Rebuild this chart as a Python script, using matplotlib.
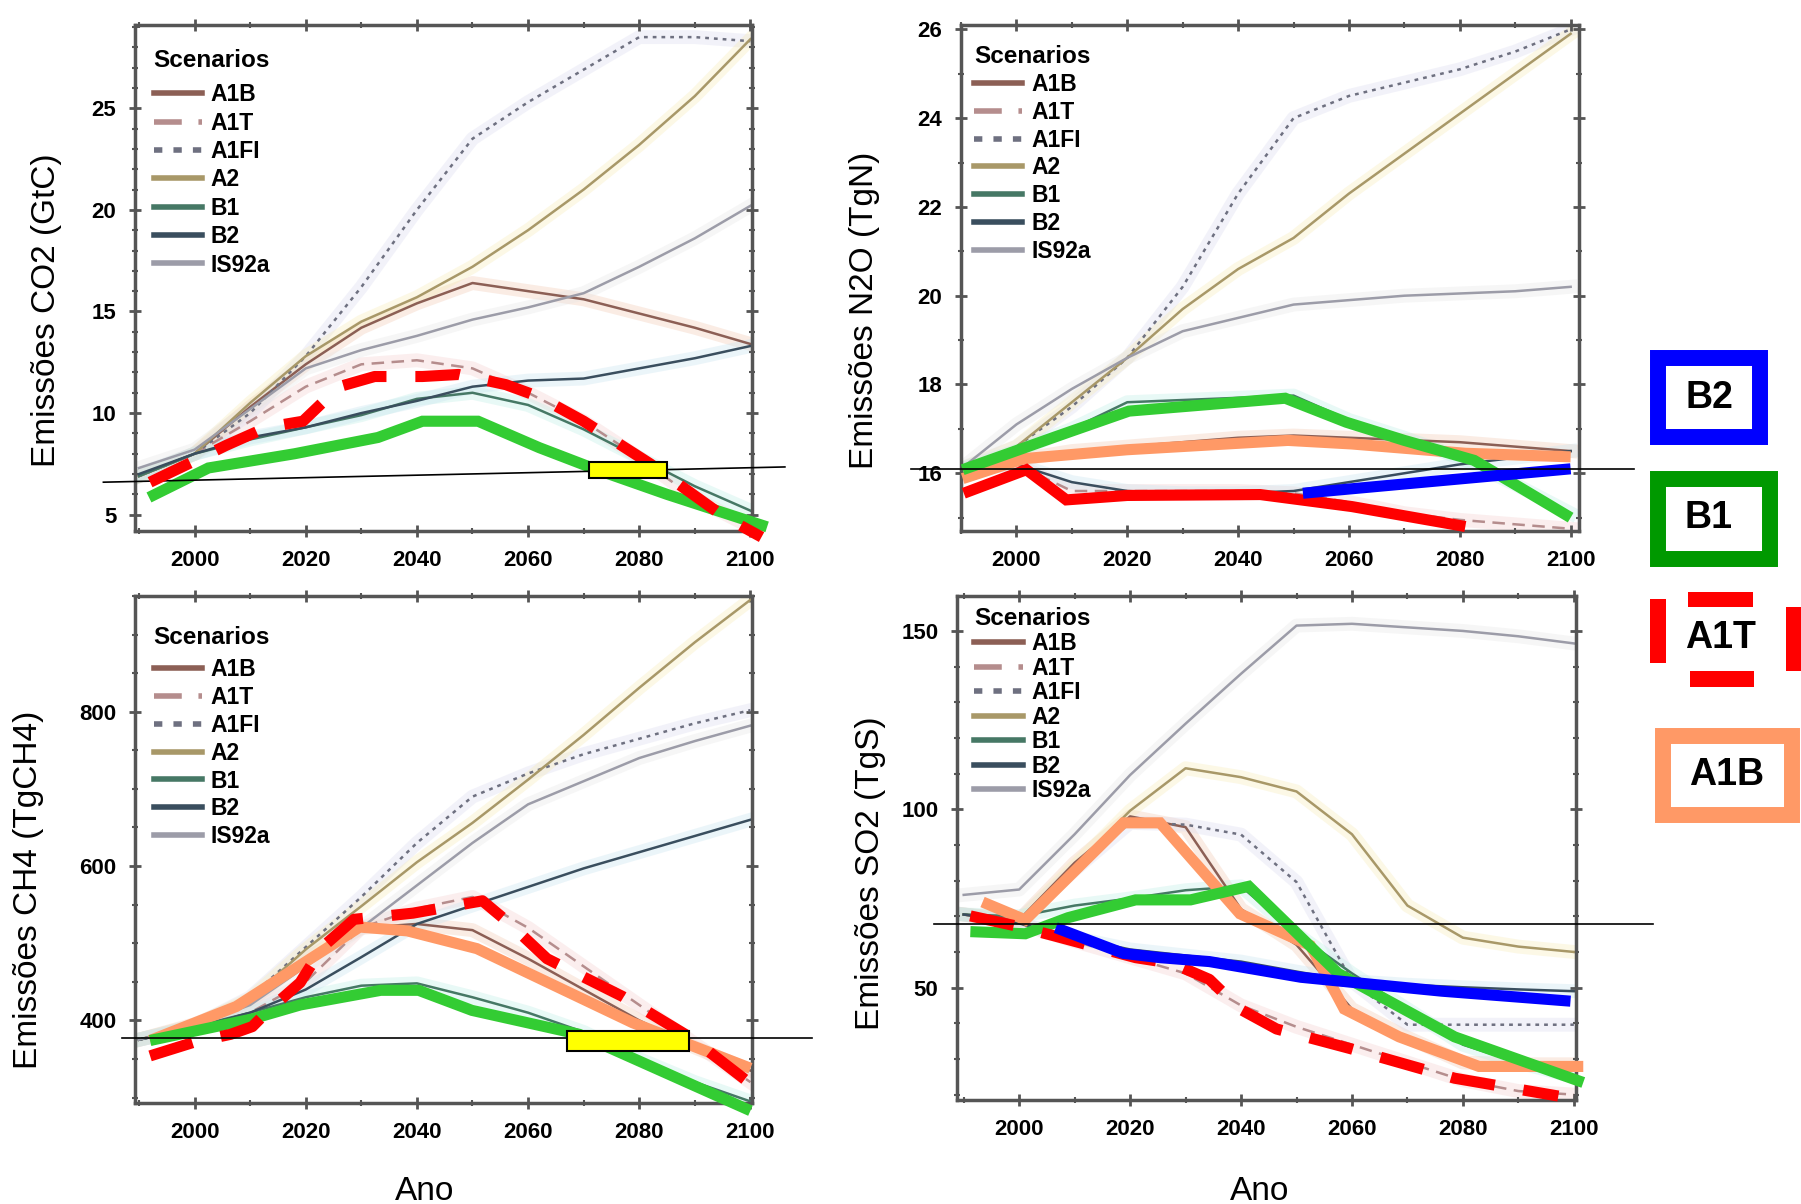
import matplotlib.pyplot as plt
from matplotlib.patches import Rectangle
from matplotlib.ticker import MultipleLocator

plt.rcParams['font.family'] = ['Liberation Sans', 'DejaVu Sans']

years = [1990, 2000, 2010, 2020, 2030, 2040, 2050, 2060, 2070, 2080, 2090, 2100]
scenarios = ["A1B", "A1T", "A1FI", "A2", "B1", "B2", "IS92a"]

# CO2 (GtC)
co2_a1b = [6.9, 8.0, 10.3, 12.4, 14.2, 15.4, 16.4, 16.0, 15.6, 14.9, 14.2, 13.4]
co2_a1t = [6.9, 8.0, 9.6, 11.3, 12.4, 12.6, 12.2, 11.0, 9.6, 7.8, 5.8, 4.4]
co2_a1fi = [6.9, 8.0, 10.0, 12.8, 16.2, 20.0, 23.5, 25.3, 26.9, 28.5, 28.5, 28.3]
co2_a2 = [6.9, 8.0, 10.5, 12.8, 14.5, 15.7, 17.2, 19.0, 21.0, 23.2, 25.6, 28.4]
co2_b1 = [6.9, 8.0, 8.7, 9.3, 9.9, 10.7, 11.0, 10.4, 9.2, 7.8, 6.4, 5.2]
co2_b2 = [7.0, 8.0, 8.8, 9.3, 10.0, 10.6, 11.3, 11.6, 11.7, 12.2, 12.7, 13.3]
co2_is92a = [7.3, 8.2, 10.2, 12.2, 13.1, 13.8, 14.6, 15.2, 15.9, 17.2, 18.6, 20.2]

# N2O (TgN)
n2o_a1b = [16.1, 16.3, 16.5, 16.6, 16.7, 16.8, 16.85, 16.8, 16.75, 16.7, 16.6, 16.5]
n2o_a1t = [16.1, 16.2, 15.6, 15.6, 15.6, 15.6, 15.55, 15.35, 15.1, 14.95, 14.85, 14.75]
n2o_a1fi = [16.1, 16.6, 17.5, 18.6, 20.2, 22.3, 24.0, 24.5, 24.8, 25.1, 25.5, 26.0]
n2o_a2 = [16.1, 16.6, 17.6, 18.6, 19.7, 20.6, 21.3, 22.3, 23.2, 24.1, 25.0, 25.9]
n2o_b1 = [16.1, 16.5, 17.0, 17.6, 17.65, 17.7, 17.75, 17.2, 16.8, 16.35, 15.75, 15.1]
n2o_b2 = [16.1, 16.2, 15.8, 15.6, 15.55, 15.55, 15.6, 15.8, 16.0, 16.2, 16.35, 16.5]
n2o_is92a = [16.1, 17.1, 17.9, 18.6, 19.2, 19.5, 19.8, 19.9, 20.0, 20.05, 20.1, 20.2]

# CH4 (TgCH4)
ch4_a1b = [375, 395, 425, 480, 520, 525, 517, 480, 440, 400, 365, 335]
ch4_a1t = [375, 390, 410, 450, 520, 545, 560, 520, 470, 420, 370, 320]
ch4_a1fi = [375, 393, 430, 495, 560, 630, 690, 720, 745, 765, 785, 802]
ch4_a2 = [375, 393, 428, 492, 548, 605, 656, 712, 770, 831, 890, 945]
ch4_b1 = [375, 392, 410, 430, 445, 448, 430, 410, 385, 350, 320, 295]
ch4_b2 = [375, 390, 410, 440, 482, 525, 549, 573, 597, 618, 639, 660]
ch4_is92a = [375, 393, 420, 470, 520, 575, 630, 680, 710, 740, 762, 782]

# SO2 (TgS)
so2_a1b = [70.5, 69, 85, 98, 95, 72, 62, 44, 36, 29, 28.5, 28.5]
so2_a1t = [70.5, 68, 63, 58.5, 54, 45, 39, 34, 29, 24, 21, 20]
so2_a1fi = [70.5, 69, 83, 96.2, 95.7, 92.9, 79.6, 51.8, 39.6, 39.6, 39.6, 39.6]
so2_a2 = [70.5, 68.5, 84, 99.6, 111.5, 109, 105, 93, 73, 64, 61.5, 60]
so2_b1 = [70.5, 70, 73, 75, 77.3, 78.4, 65.1, 54, 44, 34, 29, 25]
so2_b2 = [70.5, 68, 64, 60.7, 59, 57.3, 54.5, 51.8, 50.8, 50.1, 49.5, 49]
so2_is92a = [76, 77.5, 93, 109.6, 124, 138, 151.5, 152, 151, 150, 148.5, 146.5]

# highlighted scenarios drawn over the scan
co2_b1_hl_years = [1991.8, 2002.5, 2018, 2033, 2041, 2051, 2062, 2072.5, 2085, 2103]
co2_b1_hl = [5.85, 7.3, 8.0, 8.8, 9.6, 9.6, 8.3, 7.2, 6.0, 4.4]
co2_a1t_hl_years = [1992, 2000, 2005.6, 2013, 2019.5, 2026, 2032.4, 2041, 2047.5, 2056, 2062, 2070, 2082, 2095, 2102]
co2_a1t_hl = [6.6, 7.65, 8.4, 9.3, 9.6, 11.3, 11.8, 11.8, 11.9, 11.4, 10.8, 9.6, 7.5, 4.95, 3.9]

n2o_a1t_hl_years = [1990.5, 2001.8, 2009, 2020, 2044, 2060.5, 2081]
n2o_a1t_hl = [15.55, 16.08, 15.4, 15.5, 15.52, 15.25, 14.8]
n2o_a1b_hl_years = [1990.3, 2001.4, 2020, 2049, 2060.5, 2081, 2100]
n2o_a1b_hl = [15.88, 16.33, 16.53, 16.74, 16.66, 16.45, 16.37]
n2o_b1_hl_years = [1990.3, 2007, 2020.3, 2048.5, 2059.5, 2070, 2082.6, 2091, 2100]
n2o_b1_hl = [16.08, 16.82, 17.4, 17.69, 17.15, 16.74, 16.29, 15.67, 15.0]
n2o_b2_hl_years = [2051.7, 2100]
n2o_b2_hl = [15.55, 16.1]

ch4_a1b_hl_years = [1992, 2007.5, 2029.7, 2038.3, 2050.8, 2078.8, 2100]
ch4_a1b_hl = [374, 418, 521, 516, 493, 397, 338]
ch4_b1_hl_years = [1992, 2010.4, 2019, 2033.5, 2040.3, 2049.9, 2069.2, 2100]
ch4_b1_hl = [374, 402, 420, 439, 439, 413, 382, 283]
ch4_a1t_hl_years = [1992, 2000, 2006.5, 2010.4, 2013.3, 2019, 2023, 2028.7, 2039.3, 2051.8, 2056.6, 2063.4, 2077, 2089.4, 2100]
ch4_a1t_hl = [354, 372, 382, 392, 413, 449, 495, 531, 539, 555, 526, 480, 431, 377, 318]

so2_a1b_hl_years = [1993.4, 2001.1, 2018.8, 2025.4, 2039.8, 2052.5, 2058.6, 2068.5, 2082.9, 2101.7]
so2_a1b_hl = [74, 69, 96.2, 96.2, 70.7, 61.8, 44, 36.2, 27.9, 27.9]
so2_b1_hl_years = [1991.2, 2001.1, 2008.8, 2021, 2030.9, 2041.4, 2057.5, 2078.5, 2101.7]
so2_b1_hl = [65.7, 65.1, 69.6, 74.6, 74.6, 78.4, 54, 36.2, 23.4]
so2_a1t_hl_years = [1991.2, 1999.4, 2006.1, 2021, 2027.6, 2034.3, 2039.8, 2046.4, 2059.7, 2078.5, 2097.2]
so2_a1t_hl = [70.1, 67.3, 64.6, 58.4, 56.8, 52.3, 44, 38.4, 32.9, 24.6, 19.6]
so2_b2_hl_years = [2006.6, 2018.8, 2025.4, 2034.3, 2050.8, 2076.2, 2099.4]
so2_b2_hl = [66.8, 59.6, 58.4, 57.3, 52.9, 49, 46.2]

# thin black reference lines and yellow boxes
co2_ref_years = [1983.6, 2106.2]
co2_ref = [6.6, 7.35]
n2o_ref_years = [1981, 2111.5]
n2o_ref = [16.1, 16.1]
ch4_ref_years = [1987, 2111]
ch4_ref = [377, 377]
so2_ref_years = [1984.6, 2114.3]
so2_ref = [67.7, 67.7]
co2_box_years = [2071, 2085]
co2_box = [6.8, 7.6]
ch4_box_years = [2067, 2089]
ch4_box = [361, 386]

line_style = {
    "A1B": ("#8c5f55", "-"),
    "A1T": ("#b58d8d", (0, (5, 3))),
    "A1FI": ("#6e7080", (0, (1.5, 2))),
    "A2": ("#a89868", "-"),
    "B1": ("#467865", "-"),
    "B2": ("#3a4e5e", "-"),
    "IS92a": ("#9c9ca8", "-"),
}
glow = {"A1B": "#f2c9b2", "A1T": "#f4d0d0", "A1FI": "#dcdcf0", "A2": "#f7ecb8",
        "B1": "#bfeee6", "B2": "#c8e4f0", "IS92a": "#e6e6e6"}

GREEN = "#33cc33"
RED = "#ff0000"
BLUE = "#0000ff"
ORANGE = "#ff9966"
HL_LW = 8

fig = plt.figure(figsize=(18.01, 12.04), dpi=100)


def panel(rect, series, xlim, ylim, yticks, yminor, anchor, spacing, title_gap):
    ax = fig.add_axes(rect)
    for name, vals in zip(scenarios, series):
        c, ls = line_style[name]
        ax.plot(years, vals, color=glow[name], lw=10, alpha=0.35, zorder=1)
        ax.plot(years, vals, color=c, lw=1.8, ls=ls, label=name, zorder=2)
    ax.set_xlim(*xlim)
    ax.set_ylim(*ylim)
    ax.set_xticks(range(2000, 2101, 20))
    ax.xaxis.set_minor_locator(MultipleLocator(10))
    ax.set_yticks(yticks)
    ax.yaxis.set_minor_locator(MultipleLocator(yminor))
    for s in ax.spines.values():
        s.set_color("#555555")
        s.set_linewidth(2.5)
    ax.tick_params(which="both", direction="inout", top=True, right=True,
                   colors="#555555", labelcolor="black", labelsize=16)
    ax.tick_params(which="major", length=9, width=2, pad=9)
    ax.tick_params(which="minor", length=5, width=1.5)
    for lab in ax.get_xticklabels() + ax.get_yticklabels():
        lab.set_fontweight("bold")
    leg = ax.legend(title="Scenarios", loc="upper left", bbox_to_anchor=anchor,
                    frameon=False, prop={"size": 16.5, "weight": "bold"},
                    title_fontproperties={"size": 17.5, "weight": "bold"},
                    alignment="left", borderaxespad=0, borderpad=0,
                    handlelength=2.1, handletextpad=0.4, labelspacing=spacing)
    leg._legend_box.sep += title_gap
    for h in leg.get_lines():
        h.set_linewidth(4)
    return ax


def highlight(ax, x, y, color, dashed=False, z=6):
    ls = (0, (4, 2.6)) if dashed else "-"
    ax.plot(x, y, color=color, lw=HL_LW, ls=ls, clip_on=False, zorder=z,
            solid_capstyle="butt", solid_joinstyle="miter")


def ref_line(ax, x, y):
    ax.plot(x, y, color="black", lw=1.2, clip_on=False, zorder=7)


def box(ax, x, y):
    ax.add_patch(Rectangle((x[0], y[0]), x[1] - x[0], y[1] - y[0],
                           facecolor="#ffff00", edgecolor="black", lw=1.5, zorder=8))


# top left: CO2
ax1 = panel([0.0750, 0.5590, 0.3426, 0.4203],
            [co2_a1b, co2_a1t, co2_a1fi, co2_a2, co2_b1, co2_b2, co2_is92a],
            (1989.3, 2100.3), (4.2, 29.1), [5, 10, 15, 20, 25], 1,
            (0.03, 0.953), 0.235, 4.4)
ref_line(ax1, co2_ref_years, co2_ref)
highlight(ax1, co2_b1_hl_years, co2_b1_hl, GREEN)
highlight(ax1, co2_a1t_hl_years, co2_a1t_hl, RED, dashed=True, z=7)
box(ax1, co2_box_years, co2_box)

# top right: N2O
ax2 = panel([0.5336, 0.5590, 0.3431, 0.4203],
            [n2o_a1b, n2o_a1t, n2o_a1fi, n2o_a2, n2o_b1, n2o_b2, n2o_is92a],
            (1990, 2101.5), (14.7, 26.1), [16, 18, 20, 22, 24, 26], 1,
            (0.021, 0.96), 0.21, 0)
ref_line(ax2, n2o_ref_years, n2o_ref)
highlight(ax2, n2o_a1b_hl_years, n2o_a1b_hl, ORANGE)
highlight(ax2, n2o_b1_hl_years, n2o_b1_hl, GREEN)
highlight(ax2, n2o_a1t_hl_years, n2o_a1t_hl, RED)
highlight(ax2, n2o_b2_hl_years, n2o_b2_hl, BLUE)

# bottom left: CH4
ax3 = panel([0.0750, 0.0839, 0.3426, 0.4211],
            [ch4_a1b, ch4_a1t, ch4_a1fi, ch4_a2, ch4_b1, ch4_b2, ch4_is92a],
            (1989.3, 2100.3), (293, 950), [400, 600, 800], 50,
            (0.03, 0.94), 0.215, 2.5)
ref_line(ax3, ch4_ref_years, ch4_ref)
highlight(ax3, ch4_a1b_hl_years, ch4_a1b_hl, ORANGE)
highlight(ax3, ch4_b1_hl_years, ch4_b1_hl, GREEN)
highlight(ax3, ch4_a1t_hl_years, ch4_a1t_hl, RED, dashed=True)
box(ax3, ch4_box_years, ch4_box)

# bottom right: SO2
ax4 = panel([0.5314, 0.0864, 0.3437, 0.4186],
            [so2_a1b, so2_a1t, so2_a1fi, so2_a2, so2_b1, so2_b2, so2_is92a],
            (1988.8, 2100.4), (18.5, 159.8), [50, 100, 150], 10,
            (0.028, 0.978), 0.065, 0.5)
ref_line(ax4, so2_ref_years, so2_ref)
highlight(ax4, so2_a1b_hl_years, so2_a1b_hl, ORANGE)
highlight(ax4, so2_b1_hl_years, so2_b1_hl, GREEN)
highlight(ax4, so2_a1t_hl_years, so2_a1t_hl, RED, dashed=True)
highlight(ax4, so2_b2_hl_years, so2_b2_hl, BLUE)

# axis titles
W, H = 1801, 1204


def ftext(x, y, s, size=24, **kw):
    fig.text(x / W, 1 - y / H, s, ha="center", va="center", fontsize=size, **kw)


ftext(46, 310, "Emissões CO2 (GtC)", rotation=90)
ftext(864, 310, "Emissões N2O (TgN)", rotation=90)
ftext(29, 890, "Emissões CH4 (TgCH4)", rotation=90)
ftext(870, 873, "Emissões SO2 (TgS)", rotation=90)
ftext(425, 1191, "Ano")
ftext(1260, 1191, "Ano")


# key boxes on the right side
def frame(x0, y0, x1, y1, color):
    fig.add_artist(Rectangle((x0 / W, 1 - y1 / H), (x1 - x0) / W, (y1 - y0) / H,
                             transform=fig.transFigure, fill=False,
                             edgecolor=color, lw=11.5))


def bar(x0, y0, x1, y1, color):
    fig.add_artist(Rectangle((x0 / W, 1 - y1 / H), (x1 - x0) / W, (y1 - y0) / H,
                             transform=fig.transFigure, facecolor=color,
                             edgecolor="none"))


frame(1658, 358, 1760, 437, BLUE)
ftext(1709, 398, "B2", size=27, fontweight="bold")
frame(1658, 479, 1770, 559, "#009900")
ftext(1708, 518, "B1", size=27, fontweight="bold")
bar(1650, 599, 1666, 663, RED)
bar(1688, 592, 1753, 607, RED)
bar(1690, 671, 1754, 687, RED)
bar(1786, 607, 1801, 671, RED)
ftext(1720, 638, "A1T", size=27, fontweight="bold")
frame(1663, 736, 1792, 815, ORANGE)
ftext(1727, 775, "A1B", size=27, fontweight="bold")

plt.savefig("out.png", dpi=100)
